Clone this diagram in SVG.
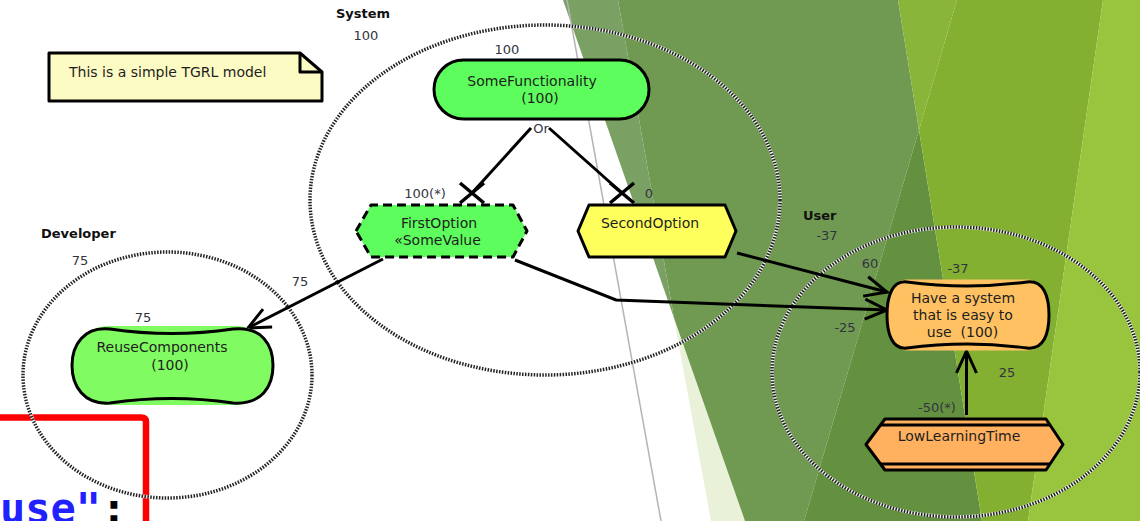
<svg xmlns="http://www.w3.org/2000/svg" xmlns:xlink="http://www.w3.org/1999/xlink" width="1140" height="521" viewBox="0 0 1140 521">
  <style>
    .txt { font-family: "DejaVu Sans", Verdana, sans-serif; font-size: 14px; fill: #1e1e1e; }
    .ctr { text-anchor: middle; }
    .lbl { font-family: "DejaVu Sans", Verdana, sans-serif; font-size: 13px; fill: #333340; }
    .actor { font-family: "DejaVu Sans", Verdana, sans-serif; font-size: 13px; font-weight: bold; fill: #111; }
    .bound-under { fill: none; stroke: #ffffff; stroke-width: 3.5; stroke-opacity: 0.85; }
    .bound { fill: none; stroke: #222; stroke-width: 3.5; stroke-dasharray: 1.5 1.4; }
    .edge { fill: none; stroke: #000; stroke-width: 3; }
    .shape { stroke: #000; stroke-width: 3; stroke-linejoin: round; }
  </style>
  <defs>
    <marker id="arrow" markerUnits="userSpaceOnUse" viewBox="-26 -14 30 28" refX="0" refY="0" markerWidth="30" markerHeight="28" orient="auto" overflow="visible">
      <path d="M-22,-10 L0,0 L-22,10" fill="none" stroke="#000" stroke-width="3"/>
    </marker>
    <path id="xmark" d="M-12,-10 L12,10 M-12,10 L12,-10" fill="none" stroke="#000" stroke-width="3.5"/>
  </defs>

  <!-- backdrop -->
  <rect width="1140" height="521" fill="#ffffff"/>
  <polygon points="563,0 618,0 674,318" fill="#7aa163"/>
  <polygon points="674,318 711,521 745,521" fill="#e9f1d9"/>
  <polygon points="618,0 898,0 919,130 804,521 745,521 674,318" fill="#709a52"/>
  <polygon points="919,130 982,521 804,521" fill="#64913f"/>
  <polygon points="957,0 1103,0 1028,521 982,521 919,130" fill="#83b030"/>
  <polygon points="898,0 957,0 919,130" fill="#89b53a"/>
  <polygon points="1103,0 1140,0 1140,521 1028,521" fill="#98c53d"/>
  <line x1="567" y1="0" x2="661" y2="521" stroke="#b4b4b4" stroke-width="1.5"/>

  <!-- highlight frame with code fragment -->
  <path d="M0,417.5 H141 Q146,417.5 146,422 V530" fill="none" stroke="#ff0000" stroke-width="6.5"/>
  <text x="0" y="523" font-family="'DejaVu Sans Mono', monospace" font-weight="bold" font-size="42" fill="#2121ff">use"<tspan fill="#000">:</tspan></text>

  <!-- actor boundaries -->
  <g id="actor-system">
    <ellipse cx="545" cy="200" rx="235" ry="175" class="bound-under"/>
    <ellipse cx="545" cy="200" rx="235" ry="175" class="bound"/>
    <text x="336" y="18" class="actor">System</text>
    <text x="366" y="40" class="lbl ctr">100</text>
  </g>
  <g id="actor-developer">
    <ellipse cx="167.5" cy="375" rx="144.5" ry="123" class="bound-under"/>
    <ellipse cx="167.5" cy="375" rx="144.5" ry="123" class="bound"/>
    <text x="41" y="238" class="actor">Developer</text>
    <text x="80" y="265" class="lbl ctr">75</text>
  </g>
  <g id="actor-user">
    <ellipse cx="956" cy="372" rx="184" ry="145" class="bound-under"/>
    <ellipse cx="956" cy="372" rx="184" ry="145" class="bound"/>
    <text x="803" y="220" class="actor">User</text>
    <text x="827" y="240" class="lbl ctr">-37</text>
  </g>

  <!-- note -->
  <g id="note">
    <path d="M49,53 H300 L322,72 V101 H49 Z" fill="#fdfbc4" class="shape"/>
    <path d="M300,53 V72 H322" fill="none" class="shape"/>
    <text x="69" y="77" class="txt">This is a simple TGRL model</text>
  </g>

  <!-- connectors -->
  <g id="connectors">
    <path d="M531,128 L472,193" class="edge" stroke-width="3.5"/>
    <path d="M549,128 L622,193" class="edge" stroke-width="3.5"/>
    <use xlink:href="#xmark" x="472" y="193"/>
    <use xlink:href="#xmark" x="622" y="193"/>
    <text x="541" y="133" class="lbl ctr">Or</text>
    <text x="425" y="198" class="lbl ctr">100(*)</text>
    <text x="649" y="198" class="lbl ctr">0</text>

    <path d="M383,259 L248,328" class="edge" marker-end="url(#arrow)"/>
    <text x="300" y="286" class="lbl ctr">75</text>

    <path d="M515,260 L616,300 L887,310" class="edge" marker-end="url(#arrow)"/>
    <path d="M737,253 L887,292" class="edge" marker-end="url(#arrow)"/>
    <text x="870" y="268" class="lbl ctr">60</text>
    <text x="845" y="332" class="lbl ctr">-25</text>

    <path d="M966.5,415 L966.5,351" class="edge" marker-end="url(#arrow)"/>
    <text x="1007" y="377" class="lbl ctr">25</text>
    <text x="937" y="412" class="lbl ctr">-50(*)</text>
  </g>

  <!-- goal -->
  <g id="SomeFunctionality">
    <rect x="434" y="60" width="215" height="59" rx="29.5" ry="29.5" fill="#5cfd5c" class="shape"/>
    <text x="532" y="86" class="txt ctr">SomeFunctionality</text>
    <text x="540" y="103" class="txt ctr">(100)</text>
    <text x="507" y="54" class="lbl ctr">100</text>
  </g>

  <!-- tasks -->
  <g id="FirstOption">
    <path d="M356,231 L371,205 H513 L527,231 L513,257 H371 Z" fill="#5cfd5c" class="shape" stroke-dasharray="9 5"/>
    <text x="439" y="228" class="txt ctr">FirstOption</text>
    <text x="437.5" y="245" class="txt ctr">«SomeValue</text>
  </g>
  <g id="SecondOption">
    <path d="M578,231 L589,205 H725 L736,231 L725,257 H589 Z" fill="#fefe5c" class="shape"/>
    <text x="650" y="228" class="txt ctr">SecondOption</text>
  </g>

  <!-- softgoals -->
  <g id="ReuseComponents">
    <path d="M110,326 H233 C262,326 273,345 273,365.5 C273,386 262,405 233,405 H110 C84,405 72,386 72,365.5 C72,345 84,326 110,326 Z" fill="#80fc62"/>
    <path d="M110,329 Q171.5,338 233,329 C262,326 273,345 273,365.5 C273,386 262,405 233,403 Q171.5,394 110,403 C84,405 72,386 72,365.5 C72,345 84,326 110,329 Z" fill="none" class="shape"/>
    <text x="162" y="352" class="txt ctr">ReuseComponents</text>
    <text x="170" y="370" class="txt ctr">(100)</text>
    <text x="143" y="322" class="lbl ctr">75</text>
  </g>
  <g id="EasyToUse">
    <path d="M907,279.5 H1027 C1044,279.5 1049,297 1049,315 C1049,333 1044,350.5 1027,350.5 H907 C892,350.5 887,333 887,315 C887,297 892,279.5 907,279.5 Z" fill="#ffc162"/>
    <path d="M907,282 Q967,290 1027,282 C1044,280 1049,297 1049,315 C1049,333 1044,350 1027,348 Q967,340 907,348 C892,350 887,333 887,315 C887,297 892,280 907,282 Z" fill="none" class="shape"/>
    <text x="963" y="303" class="txt ctr">Have a system</text>
    <text x="963" y="320" class="txt ctr">that is easy to</text>
    <text x="962.5" y="337" class="txt ctr" style="white-space:pre">use  (100)</text>
    <text x="958" y="273" class="lbl ctr">-37</text>
  </g>

  <!-- task -->
  <g id="LowLearningTime">
    <path d="M866,444.5 L885,419 H1046 L1063,444.5 L1046,470 H885 Z" fill="#ffb160" class="shape"/>
    <path d="M880.5,425 H1050 M880.5,464 H1050" fill="none" stroke="#000" stroke-width="3"/>
    <text x="959" y="441" class="txt ctr">LowLearningTime</text>
  </g>
</svg>
